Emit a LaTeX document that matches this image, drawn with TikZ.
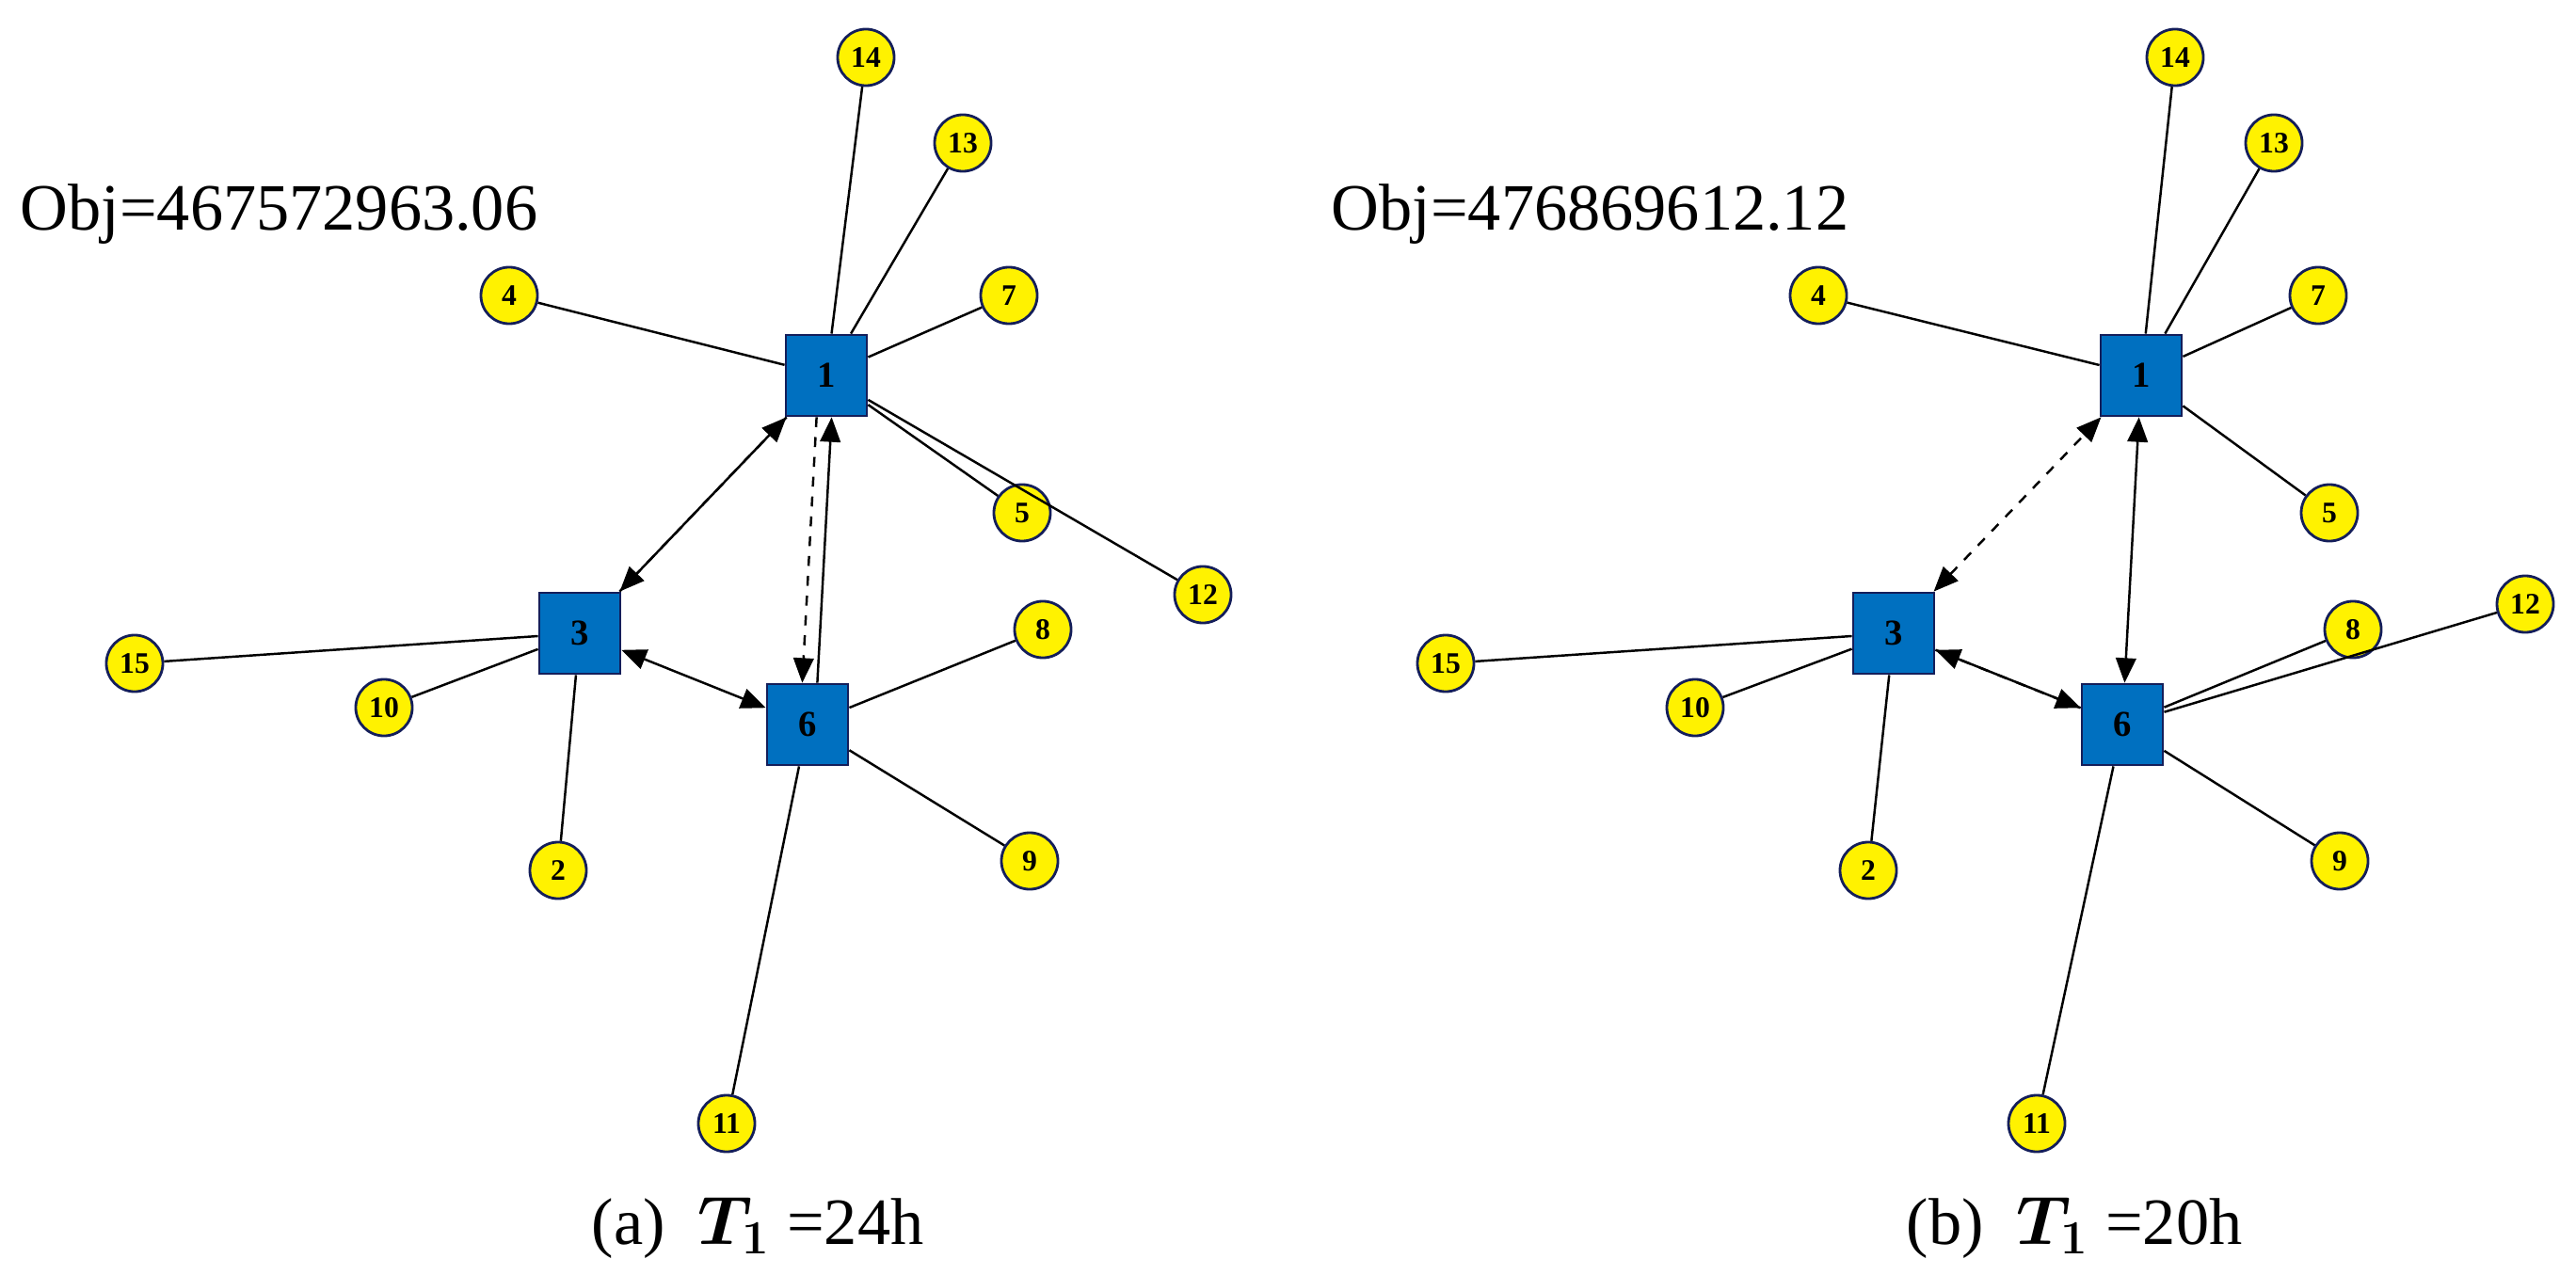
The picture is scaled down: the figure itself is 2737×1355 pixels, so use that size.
\documentclass[tikz,border=0pt]{standalone}
\usepackage{fontspec}
\setmainfont{Liberation Serif}
\usepackage{amsmath}
\usepackage{tikz}
\usetikzlibrary{calc,arrows,positioning}
\definecolor{hubblue}{RGB}{0,112,192}
\definecolor{navy}{RGB}{20,30,90}

\begin{document}
\begin{tikzpicture}[
    x = 0.01cm,
    y = -0.01cm,
    >=triangle 45,
    hub/.style = {
      draw = navy,
      fill = hubblue,
      line width = 0.8pt,
      minimum size = 0.86cm,
      inner sep = 0pt,
      font = \bfseries\fontsize{11}{12}\selectfont},
    cust/.style = {
      draw = navy,
      fill = yellow,
      circle,
      line width = 0.8pt,
      minimum size = 0.6cm,
      inner sep = 0pt,
      font = \bfseries\fontsize{9}{10}\selectfont},
    link/.style = {line width = 0.7pt},
    big/.style = {font = \fontsize{20}{24}\selectfont, inner sep = 0pt}
      ]
  \useasboundingbox (0,0) rectangle (2737,1355);

  % Panel (a): depots
  \node[hub] (a1) at (878,399) {1};
  \node[hub] (a3) at (616,673) {3};
  \node[hub] (a6) at (858,770) {6};
  % Panel (a): customers
  \foreach \n/\x/\y in {14/920/61, 13/1023/152, 7/1072/314, 4/541/314,
      5/1086/545, 12/1278/632, 8/1108/669, 15/143/705, 10/408/752,
      9/1094/915, 2/593/925, 11/772/1194}
    \node[cust] (ac\n) at (\x,\y) {\n};

  \foreach \c in {14,13,7,4,5,12} \draw[link] (a1) -- (ac\c);
  \foreach \c in {15,10,2} \draw[link] (a3) -- (ac\c);
  \foreach \c in {8,9,11} \draw[link] (a6) -- (ac\c);

  % Panel (a): routes between depots
  \draw[link, ->, transform canvas={shift={(0.07,-0.07)}}] (a1) -- (a3);
  \draw[link, dashed, ->, transform canvas={shift={(-0.07,0.07)}}] (a3) -- (a1);
  \draw[link, ->, transform canvas={xshift=0.08cm}] (a6) -- (a1);
  \draw[link, dashed, ->, transform canvas={xshift=-0.08cm}] (a1) -- (a6);
  \draw[link, <->] (a3) -- (a6);

  % Panel (b): depots
  \node[hub] (b1) at (2275,399) {1};
  \node[hub] (b3) at (2012,673) {3};
  \node[hub] (b6) at (2255,770) {6};
  % Panel (b): customers
  \foreach \n/\x/\y in {14/2311/61, 13/2416/152, 7/2463/314, 4/1932/314,
      5/2475/545, 12/2683/642, 8/2500/669, 15/1536/705, 10/1801/752,
      9/2486/915, 2/1985/925, 11/2164/1194}
    \node[cust] (bc\n) at (\x,\y) {\n};

  \foreach \c in {14,13,7,4,5} \draw[link] (b1) -- (bc\c);
  \foreach \c in {15,10,2} \draw[link] (b3) -- (bc\c);
  \foreach \c in {8,12,9,11} \draw[link] (b6) -- (bc\c);

  % Panel (b): routes between depots
  \draw[link, dashed, <->] (b3) -- (b1);
  \draw[link, <->] (b1) -- (b6);
  \draw[link, ->, transform canvas={shift={(-0.05,-0.07)}}] (b3) -- (b6);
  \draw[link, dashed, ->, transform canvas={shift={(0.05,0.07)}}] (b6) -- (b3);

  % Objective values and captions
  \node[big, anchor=base west] (objA) at (21,245) {Obj=467572963.06};
  \node[big, anchor=base west] (objB) at (1414,245) {Obj=476869612.12};
  \node[big, anchor=base west] (capA) at (628,1322) {(a)\ \ $\boldsymbol{T_1}$ =24h};
  \node[big, anchor=base west] (capB) at (2025,1322) {(b)\ \ $\boldsymbol{T_1}$ =20h};
\end{tikzpicture}
\end{document}
